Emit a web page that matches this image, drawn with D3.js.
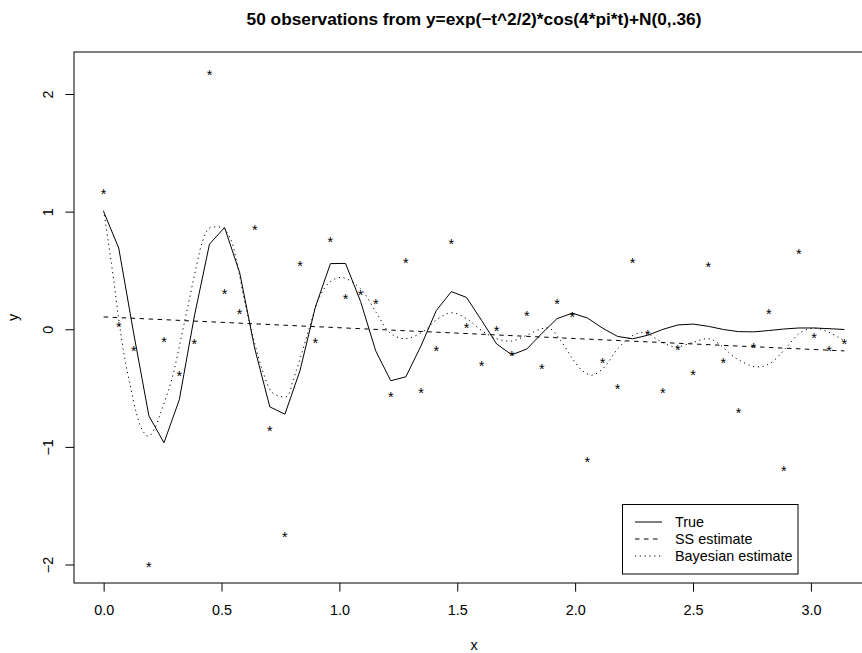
<!DOCTYPE html>
<html>
<head>
<meta charset="utf-8">
<script src="https://cdn.jsdelivr.net/npm/d3@7"></script>
<style>
  body { margin: 0; background: #fff; }
  svg text { font-family: "Liberation Sans", Arial, sans-serif; fill: #000; }
</style>
</head>
<body>
<div id="plot"></div>
<script>

// 50 design points
var obsX = [0.000,0.064,0.128,0.192,0.256,0.321,0.385,0.449,0.513,0.577,
            0.641,0.705,0.769,0.833,0.898,0.962,1.026,1.090,1.154,1.218,
            1.282,1.346,1.411,1.475,1.539,1.603,1.667,1.731,1.795,1.859,
            1.923,1.988,2.052,2.116,2.180,2.244,2.308,2.372,2.436,2.500,
            2.565,2.629,2.693,2.757,2.821,2.885,2.949,3.013,3.077,3.142];

// observed y (stars)
var obsY = [ 1.18, 0.05,-0.16,-1.99,-0.08,-0.37,-0.10, 2.19, 0.33, 0.16,
             0.87,-0.84,-1.74, 0.57,-0.09, 0.77, 0.29, 0.32, 0.24,-0.55,
             0.59,-0.51,-0.16, 0.75, 0.04,-0.28, 0.01,-0.20, 0.14,-0.31,
             0.24, 0.13,-1.10,-0.26,-0.48, 0.59,-0.02,-0.51,-0.15,-0.36,
             0.56,-0.26,-0.68,-0.13, 0.16,-1.18, 0.67,-0.05,-0.16,-0.10];

// true curve at the design points
var trueY = [ 1.000, 0.691,-0.040,-0.736,-0.965,-0.599, 0.113, 0.724, 0.865, 0.482,
             -0.164,-0.660,-0.722,-0.351, 0.188, 0.558, 0.560, 0.236,-0.183,-0.438,
             -0.404,-0.142, 0.159, 0.320, 0.271, 0.076,-0.125,-0.217,-0.168,-0.035,
              0.090, 0.137, 0.096, 0.010,-0.061,-0.081,-0.051,-0.001, 0.037, 0.044,
              0.025,-0.002,-0.020,-0.022,-0.011, 0.002, 0.011, 0.011, 0.005,-0.002];

// SS estimate (straight line)
var ssX = [0, 3.142];
var ssY = [0.105, -0.184];

// Bayesian estimate, traced
var bayesX = [0.000,0.020,0.040,0.065,0.090,0.115,0.140,0.165,0.190,0.215,
              0.240,0.265,0.290,0.344,0.393,0.420,0.448,0.480,0.507,0.540,
              0.570,0.600,0.641,0.677,0.712,0.747,0.778,0.804,0.832,0.874,
              0.917,0.959,1.010,1.087,1.157,1.214,1.278,1.355,1.412,1.476,
              1.539,1.603,1.667,1.731,1.795,1.851,1.890,1.940,1.992,2.030,
              2.070,2.120,2.183,2.247,2.297,2.360,2.424,2.502,2.565,2.607,
              2.685,2.770,2.827,2.898,2.954,3.018,3.081,3.142];
var bayesY = [ 1.01, 0.74, 0.46, 0.07,-0.25,-0.50,-0.72,-0.86,-0.91,-0.85,
              -0.72,-0.58,-0.42, 0.07, 0.53, 0.75, 0.86, 0.87, 0.86, 0.76,
               0.52, 0.22,-0.12,-0.37,-0.53,-0.57,-0.57,-0.43,-0.26, 0.02,
               0.28, 0.40, 0.44, 0.35, 0.14,-0.03,-0.08,-0.02, 0.08, 0.14,
               0.09,-0.01,-0.08,-0.10,-0.05, 0.00, 0.01,-0.10,-0.26,-0.35,
              -0.39,-0.33,-0.16,-0.05,-0.03,-0.10,-0.15,-0.11,-0.08,-0.12,
              -0.25,-0.32,-0.29,-0.15,-0.03, 0.01,-0.03,-0.10];

var xTicks = [0, 0.5, 1, 1.5, 2, 2.5, 3];
var yTicks = [-2, -1, 0, 1, 2];
var legendLabels = ["True", "SS estimate", "Bayesian estimate"];
var legendDash   = ["none", "4.5,4.5", "1.2,3.6"];

var width = 862, height = 653;
var box = {left: 74, right: 874, top: 52, bottom: 583};
var fs = 14.4;

// R style 4% range extension
function rRange(v){
  var e = d3.extent(v);
  var d = (e[1] - e[0]) * 0.04;
  return [e[0] - d, e[1] + d];
}

var x = d3.scaleLinear().domain(rRange(obsX)).range([box.left, box.right]);
var y = d3.scaleLinear().domain(rRange(obsY)).range([box.bottom, box.top]);

var svg = d3.select("#plot")
  .append("svg")
    .attr("width", width)
    .attr("height", height);

var line = d3.line()
  .x(function(d){ return x(d[0]); })
  .y(function(d){ return y(d[1]); });

// title
svg.append("text")
  .attr("x", (box.left + box.right) / 2)
  .attr("y", 25)
  .attr("text-anchor", "middle")
  .style("font-size", "17.28px")
  .style("font-weight", "bold")
  .text("50 observations from y=exp(\u2212t^2/2)*cos(4*pi*t)+N(0,.36)");

// stars
svg.append("g")
  .selectAll("text")
  .data(d3.zip(obsX, obsY))
  .enter()
  .append("text")
    .attr("x", function(d){ return x(d[0]); })
    .attr("y", function(d){ return y(d[1]) + 0.58 * fs; })
    .attr("text-anchor", "middle")
    .style("font-size", fs + "px")
    .text("*");

// true
svg.append("path")
  .attr("d", line(d3.zip(obsX, trueY)))
  .attr("fill", "none")
  .attr("stroke", "#000")
  .attr("stroke-width", 1);

// SS estimate
svg.append("path")
  .attr("d", line(d3.zip(ssX, ssY)))
  .attr("fill", "none")
  .attr("stroke", "#000")
  .attr("stroke-width", 1)
  .attr("stroke-dasharray", legendDash[1]);

// Bayesian estimate
svg.append("path")
  .attr("d", line.curve(d3.curveCatmullRom)(d3.zip(bayesX, bayesY)))
  .attr("fill", "none")
  .attr("stroke", "#000")
  .attr("stroke-width", 1)
  .attr("stroke-dasharray", legendDash[2]);
line.curve(d3.curveLinear);

// box
svg.append("rect")
  .attr("x", box.left)
  .attr("y", box.top)
  .attr("width", box.right - box.left)
  .attr("height", box.bottom - box.top)
  .attr("fill", "none")
  .attr("stroke", "#000")
  .attr("stroke-width", 1);

// x axis
var xAxis = svg.append("g")
  .attr("transform", "translate(0," + box.bottom + ")")
  .call(d3.axisBottom(x)
    .tickValues(xTicks)
    .tickSize(8.6)
    .tickPadding(13)
    .tickFormat(d3.format(".1f")));
xAxis.select(".domain").remove();
xAxis.selectAll("text")
  .attr("font-family", null)
  .style("font-size", fs + "px");

// y axis, labels parallel to the axis
var yAxis = svg.append("g")
  .attr("transform", "translate(" + box.left + ",0)")
  .call(d3.axisLeft(y)
    .tickValues(yTicks)
    .tickSize(8.6)
    .tickFormat(function(d){ return d < 0 ? "\u2212" + Math.abs(d) : d; }));
yAxis.select(".domain").remove();
yAxis.selectAll("text")
  .attr("transform", "rotate(-90)")
  .attr("x", 0)
  .attr("y", -21)
  .attr("dy", null)
  .attr("text-anchor", "middle")
  .style("font-size", fs + "px");

svg.selectAll(".tick line").attr("stroke", "#000");

// axis titles
svg.append("text")
  .attr("x", (box.left + box.right) / 2)
  .attr("y", 650)
  .attr("text-anchor", "middle")
  .style("font-size", fs + "px")
  .text("x");

svg.append("text")
  .attr("transform", "translate(18," + (box.top + box.bottom) / 2 + ") rotate(-90)")
  .attr("text-anchor", "middle")
  .style("font-size", fs + "px")
  .text("y");

// legend
var leg = svg.append("g");
leg.append("rect")
  .attr("x", 622.5)
  .attr("y", 504.5)
  .attr("width", 175.5)
  .attr("height", 69.5)
  .attr("fill", "#fff")
  .attr("stroke", "#000")
  .attr("stroke-width", 1);

legendLabels.forEach(function(lab, i){
  var cy = 522 + i * 17;
  leg.append("line")
    .attr("x1", 635)
    .attr("x2", 662)
    .attr("y1", cy)
    .attr("y2", cy)
    .attr("stroke", "#000")
    .attr("stroke-width", 1)
    .attr("stroke-dasharray", legendDash[i] == "none" ? null : legendDash[i]);
  leg.append("text")
    .attr("x", 675)
    .attr("y", cy + 5)
    .style("font-size", fs + "px")
    .text(lab);
});

</script>
</body>
</html>
